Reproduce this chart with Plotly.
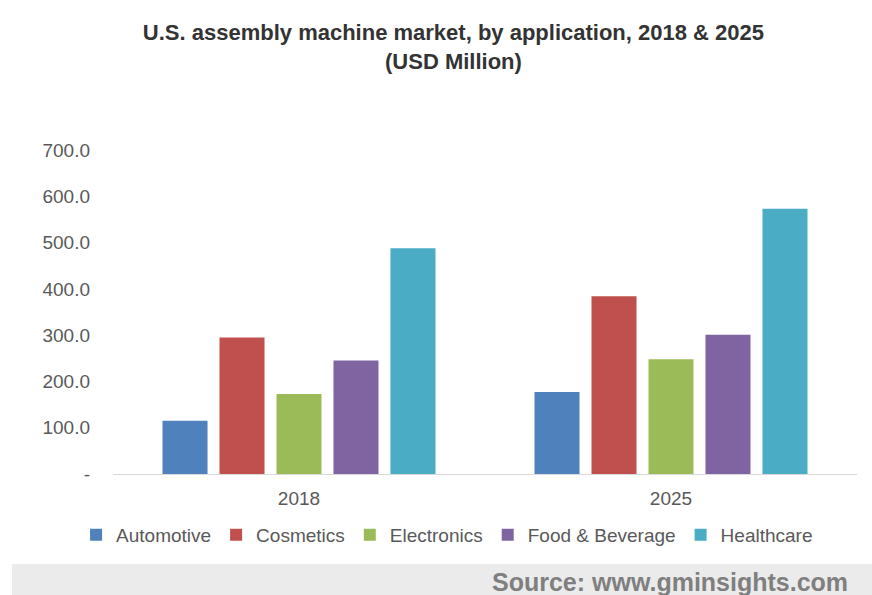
import plotly.graph_objects as go

# Market size by application (USD Million)
years = ["2018", "2025"]
applications = ["Automotive", "Cosmetics", "Electronics", "Food & Beverage", "Healthcare"]
automotive = [115, 177]
cosmetics = [295, 384]
electronics = [173, 248]
food_beverage = [245, 301]
healthcare = [488, 573]
series_values = [automotive, cosmetics, electronics, food_beverage, healthcare]
colors = ["#4f81bd", "#c0504d", "#9bbb59", "#8064a2", "#4bacc6"]

y_tick_vals = [0, 100, 200, 300, 400, 500, 600, 700]
y_tick_text = ["-", "100.0", "200.0", "300.0", "400.0", "500.0", "600.0", "700.0"]

FONT = "Liberation Sans, Arial, sans-serif"

fig = go.Figure()
for name, vals, col in zip(applications, series_values, colors):
    fig.add_trace(go.Bar(name=name, x=years, y=vals, marker=dict(color=col, line=dict(width=0))))

fig.update_layout(
    width=872,
    height=595,
    margin=dict(l=113, r=15, t=150, b=121, autoexpand=False),
    paper_bgcolor="white",
    plot_bgcolor="white",
    barmode="group",
    bargap=0.234,
    bargroupgap=0.21,
    font=dict(family=FONT, color="#595959", size=19),
    title=dict(
        text="U.S. assembly machine market, by application, 2018 & 2025<br>(USD Million)",
        x=0.52,
        xanchor="center",
        xref="container",
        y=1 - 40 / 595,
        yanchor="top",
        yref="container",
        font=dict(family=FONT, size=22, color="#333333", weight="bold"),
    ),
    showlegend=True,
    legend=dict(
        orientation="h",
        x=0.449,
        xanchor="center",
        y=-0.188,
        yanchor="middle",
        bgcolor="rgba(0,0,0,0)",
        font=dict(family=FONT, size=19, color="#595959"),
        itemwidth=30,
        tracegroupgap=0,
    ),
)

fig.update_xaxes(
    showline=True,
    linecolor="#d9d9d9",
    linewidth=1,
    showgrid=False,
    ticks="",
    tickfont=dict(family=FONT, size=19, color="#595959"),
    ticklabelstandoff=7,
)
fig.update_yaxes(
    range=[0, 700],
    tickvals=y_tick_vals,
    ticktext=y_tick_text,
    showgrid=False,
    showline=False,
    zeroline=False,
    ticks="",
    ticklabelstandoff=22,
    tickfont=dict(family=FONT, size=19, color="#595959"),
)

# Grey footer band with the source credit
fig.add_shape(
    type="rect",
    xref="paper", yref="paper",
    x0=(12 - 113) / 744, x1=(872 - 113) / 744,
    y0=(474 - 600) / 324, y1=(474 - 564) / 324,
    fillcolor="#ebebeb",
    line=dict(width=0),
    layer="below",
)
fig.add_annotation(
    text="Source: www.gminsights.com",
    xref="paper", yref="paper",
    x=(850 - 113) / 744, y=(474 - 582) / 324,
    xanchor="right", yanchor="middle",
    showarrow=False,
    font=dict(family=FONT, size=25, color="#7f7f7f", weight="bold"),
)

fig.write_html("out.html")
